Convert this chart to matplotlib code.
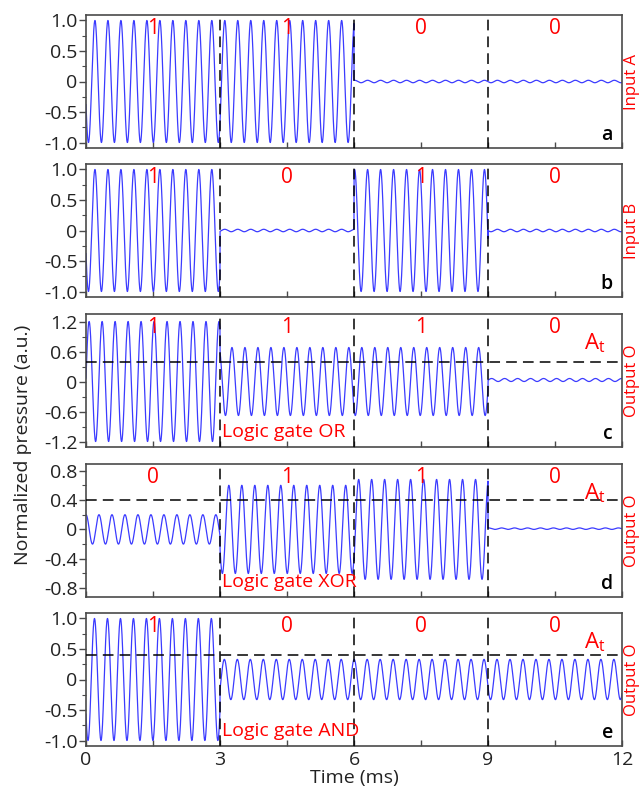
import numpy as np
import matplotlib
matplotlib.use("Agg")
import matplotlib.pyplot as plt
from matplotlib.ticker import MultipleLocator

plt.rcParams['font.family'] = ['Open Sans', 'DejaVu Sans']
plt.rcParams['mathtext.fontset'] = 'custom'
plt.rcParams['mathtext.rm'] = 'Open Sans'

# segment edges (ms) and carrier
seg_edges = [0, 3, 6, 9, 12]
carrier_khz = 3.44

# amplitude of each 3 ms segment
amp_a = [1.0, 1.0, 0.02, 0.02]
amp_b = [1.0, 0.02, 1.0, 0.02]
amp_or = [1.2, 0.68, 0.68, 0.03]
amp_xor = [0.2, 0.6, 0.68, 0.01]
amp_and = [1.0, 0.33, 0.33, 0.33]
offset_or = [0.0, 0.0, 0.0, 0.03]
offset_xor = [0.0, 0.0, 0.0, 0.01]
zero = [0.0, 0.0, 0.0, 0.0]

# time of first peak (ms), per panel
first_peak = [0.2, 0.2, 0.07, 0.0, 0.19]

bits_a = ['1', '1', '0', '0']
bits_b = ['1', '0', '1', '0']
bits_or = ['1', '1', '1', '0']
bits_xor = ['0', '1', '1', '0']
bits_and = ['1', '0', '0', '0']

side_labels = ['Input A', 'Input B', 'Output O', 'Output O', 'Output O']
panel_letters = ['a', 'b', 'c', 'd', 'e']
gate_names = [None, None, 'Logic gate OR', 'Logic gate XOR', 'Logic gate AND']
threshold = 0.4

xticks = [0, 3, 6, 9, 12]
ylims = [(-1.09, 1.09), (-1.09, 1.09), (-1.31, 1.35), (-0.92, 0.89), (-1.09, 1.09)]
yticks = [[-1.0, -0.5, 0, 0.5, 1.0], [-1.0, -0.5, 0, 0.5, 1.0],
          [-1.2, -0.6, 0, 0.6, 1.2], [-0.8, -0.4, 0, 0.4, 0.8],
          [-1.0, -0.5, 0, 0.5, 1.0]]
yticklabels = [['-1.0', '-0.5', '0', '0.5', '1.0'], ['-1.0', '-0.5', '0', '0.5', '1.0'],
               ['-1.2', '-0.6', '0', '0.6', '1.2'], ['-0.8', '-0.4', '0', '0.4', '0.8'],
               ['-1.0', '-0.5', '0', '0.5', '1.0']]
yminor = [0.25, 0.25, 0.3, 0.2, 0.25]

panels = [(amp_a, zero, bits_a), (amp_b, zero, bits_b), (amp_or, offset_or, bits_or),
          (amp_xor, offset_xor, bits_xor), (amp_and, zero, bits_and)]

RED = '#ff0000'
BLUE = '#3b3bff'
SPINE = '#4a4a4a'


def signal(amps, offs, t0, t):
    idx = np.clip(np.searchsorted(seg_edges, t, side='right') - 1, 0, 3)
    a = np.array(amps)[idx]
    o = np.array(offs)[idx]
    return a * np.cos(2 * np.pi * carrier_khz * (t - t0)) + o


fig = plt.figure(figsize=(6.43, 7.92), dpi=100)
W, H = 643, 792
tops = [15, 164, 314, 464, 613]
t = np.linspace(0, 12, 8000)

for i, (amps, offs, bits) in enumerate(panels):
    top = tops[i]
    ax = fig.add_axes([86 / W, 1 - (top + 133) / H, 536 / W, 133 / H])
    ax.plot(t, signal(amps, offs, first_peak[i], t), color=BLUE, lw=0.9)
    for xv in seg_edges[1:-1]:
        ax.axvline(xv, color='black', lw=1.1, ls=(0, (7, 4)), zorder=3)
    if i >= 2:
        ax.axhline(threshold, color='black', lw=1.1, ls=(0, (7, 4)), zorder=3)
        ax.text(0.95, 0.78, r'A$_\mathregular{t}$', transform=ax.transAxes,
                color=RED, fontsize=16, ha='center', va='center')
    for k, b in enumerate(bits):
        ax.text((seg_edges[k] + seg_edges[k + 1]) / 2, ylims[i][1] - 0.105 * (ylims[i][1] - ylims[i][0]),
                b, color=RED, fontsize=15, ha='center', va='center')
    if gate_names[i]:
        ax.text(3.05, ylims[i][0] + 0.11 * (ylims[i][1] - ylims[i][0]), gate_names[i],
                color=RED, fontsize=14, ha='left', va='center')
    ax.text(0.983, 0.1, panel_letters[i], transform=ax.transAxes, color='black',
            fontsize=14, fontweight='semibold', ha='right', va='center')
    ax.text(1.004, 0.5, side_labels[i], transform=ax.transAxes, color=RED,
            fontsize=12, rotation=90, ha='left', va='center')

    ax.set_xlim(0, 12)
    ax.set_ylim(*ylims[i])
    ax.set_yticks(yticks[i])
    ax.set_yticklabels(yticklabels[i])
    ax.yaxis.set_minor_locator(MultipleLocator(yminor[i]))
    ax.set_xticks(xticks)
    ax.xaxis.set_minor_locator(MultipleLocator(1.5))
    ax.tick_params(axis='y', which='major', direction='out', length=5, width=1, colors=SPINE,
                   labelsize=14, labelcolor='#222222', pad=1)
    ax.tick_params(axis='y', which='minor', direction='out', length=3, width=0.8, colors=SPINE)
    ax.tick_params(axis='x', which='both', direction='in', length=4, width=1, colors=SPINE,
                   labelsize=14, labelcolor='#222222', top=False)
    if i < 4:
        ax.tick_params(axis='x', labelbottom=False)
    else:
        ax.set_xticklabels([str(v) for v in xticks])
    for s in ax.spines.values():
        s.set_color(SPINE)
        s.set_linewidth(1.2)

fig.text(0.036, 1 - 445 / H, 'Normalized pressure (a.u.)', rotation=90,
         ha='center', va='center', fontsize=14, color='#222222')
fig.text(354 / W, 1 - 778 / H, 'Time (ms)', ha='center', va='center',
         fontsize=14, color='#222222')

fig.savefig('out.png', dpi=100)
